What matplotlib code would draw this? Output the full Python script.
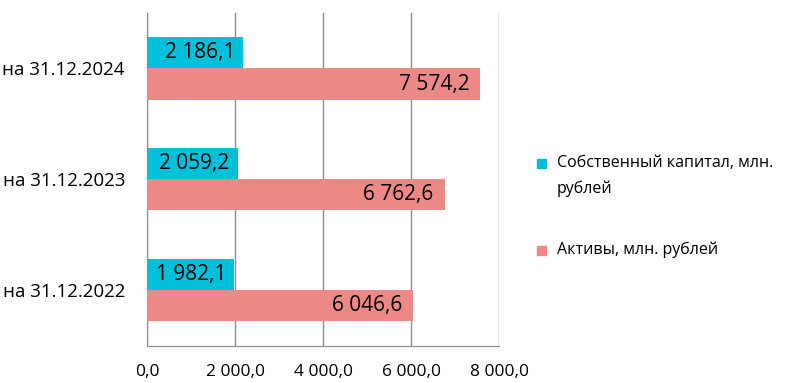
import matplotlib.pyplot as plt
import matplotlib.patches as mpatches
import numpy as np

plt.rcParams['font.family'] = ['Open Sans', 'DejaVu Sans']

# данные
categories = ['на 31.12.2022', 'на 31.12.2023', 'на 31.12.2024']
capital = [1982.1, 2059.2, 2186.1]
assets = [6046.6, 6762.6, 7574.2]
x_ticks = [0, 2000, 4000, 6000, 8000]
legend_labels = ['Собственный капитал, млн.\nрублей', 'Активы, млн. рублей']

c_cap = '#00BFD8'
c_ast = '#EC8886'


def fmt(v):
    s = f'{v:,.1f}'
    return s.replace(',', ' ').replace('.', ',')


fig = plt.figure(figsize=(8, 3.83), dpi=100)
ax = fig.add_axes([0.184, 0.097, 0.44, 0.869])

y = np.arange(len(categories))
h = 0.28
ax.barh(y + h / 2, capital, height=h, color=c_cap, zorder=3)
ax.barh(y - h / 2, assets, height=h, color=c_ast, zorder=3)

for i in range(len(categories)):
    ax.annotate(fmt(capital[i]), (capital[i], y[i] + h / 2), xytext=(-6, 0),
                textcoords='offset points', ha='right', va='center', fontsize=15, zorder=4)
    ax.annotate(fmt(assets[i]), (assets[i], y[i] - h / 2), xytext=(-8, 0),
                textcoords='offset points', ha='right', va='center', fontsize=15, zorder=4)

ax.set_xlim(0, 8000)
ax.set_ylim(-0.5, 2.5)
ax.set_xticks(x_ticks)
ax.set_xticklabels([fmt(t) for t in x_ticks], fontsize=12.5)
ax.set_yticks(y)
ax.set_yticklabels(categories, fontsize=13.5)
ax.tick_params(length=0, pad=13)
ax.tick_params(axis='y', pad=16)
ax.grid(axis='x', color='#8c8c8c', linewidth=1, zorder=0)
for s in ['top', 'right']:
    ax.spines[s].set_visible(False)
ax.spines['left'].set_color('#8c8c8c')
ax.spines['bottom'].set_color('#8c8c8c')

# легенда справа (квадрат на уровне первой строки)
sq_w, sq_h = 9 / 800, 9 / 383
fig.patches.append(mpatches.Rectangle((0.671, 0.574 - sq_h / 2), sq_w, sq_h,
                                      color=c_cap, transform=fig.transFigure))
fig.text(0.696, 0.574 + 0.022, legend_labels[0], ha='left', va='top',
         fontsize=11.5, linespacing=1.75)
fig.patches.append(mpatches.Rectangle((0.671, 0.347 - sq_h / 2), sq_w, sq_h,
                                      color=c_ast, transform=fig.transFigure))
fig.text(0.696, 0.347, legend_labels[1], ha='left', va='center', fontsize=11.5)

fig.savefig('out.png', dpi=100)
